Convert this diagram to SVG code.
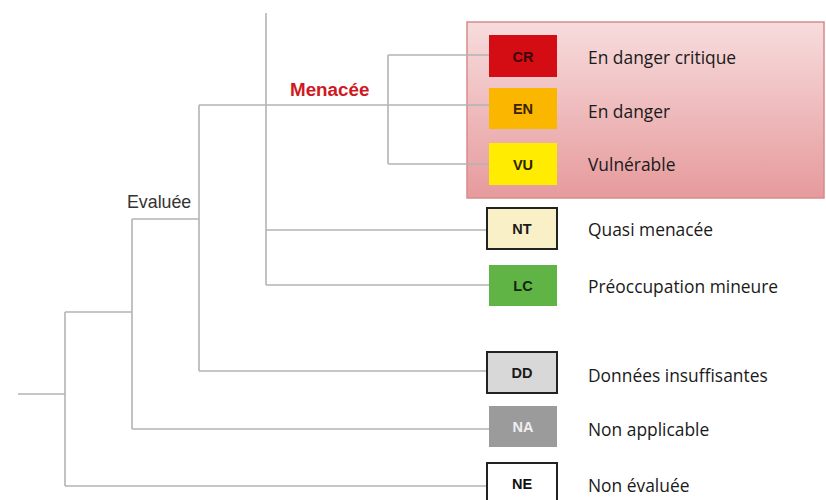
<svg xmlns="http://www.w3.org/2000/svg" width="826" height="500" viewBox="0 0 826 500">
<defs>
<linearGradient id="panelGrad" x1="0" y1="0" x2="0" y2="1">
<stop offset="0" stop-color="#f7dcdd"/>
<stop offset="1" stop-color="#e69a9c"/>
</linearGradient>
<style>
.ln{stroke:#b3b3b3;stroke-width:1.6;fill:none}
.code{font-family:"Liberation Sans",Arial,sans-serif;font-weight:bold;font-size:14.5px;text-anchor:middle}
.lab{font-family:"Open Sans",sans-serif;font-size:17.4px;fill:#1a1a1a}
.bord{stroke:#222;stroke-width:2}
</style>
</defs>
<rect width="826" height="500" fill="#ffffff"/>
<g id="panel-menacee">
<rect x="467" y="22" width="357" height="176" fill="url(#panelGrad)" stroke="#d98a8c" stroke-width="1.5"/>
</g>
<g id="connectors">
<line class="ln" x1="266" y1="13" x2="266" y2="285"/>
<line class="ln" x1="388" y1="55" x2="388" y2="164"/>
<line class="ln" x1="388" y1="55" x2="489" y2="55"/>
<line class="ln" x1="199" y1="105" x2="489" y2="105"/>
<line class="ln" x1="388" y1="164" x2="489" y2="164"/>
<line class="ln" x1="266" y1="230" x2="487" y2="230"/>
<line class="ln" x1="266" y1="285" x2="489" y2="285"/>
<line class="ln" x1="199" y1="105" x2="199" y2="371"/>
<line class="ln" x1="199" y1="371" x2="487" y2="371"/>
<line class="ln" x1="132" y1="219" x2="199" y2="219"/>
<line class="ln" x1="132" y1="219" x2="132" y2="429"/>
<line class="ln" x1="132" y1="429" x2="489" y2="429"/>
<line class="ln" x1="65" y1="312" x2="132" y2="312"/>
<line class="ln" x1="65" y1="312" x2="65" y2="486"/>
<line class="ln" x1="65" y1="486" x2="487" y2="486"/>
<line class="ln" x1="18" y1="394" x2="65" y2="394"/>
</g>
<g id="label-menacee"><text x="290" y="96" font-family="Liberation Sans,Arial,sans-serif" font-weight="bold" font-size="18.8" fill="#d01822">Menacée</text></g>
<g id="label-evaluee"><text x="127" y="208" font-family="Liberation Sans,Arial,sans-serif" font-size="17.8" fill="#333">Evaluée</text></g>
<g id="node-CR">
<rect x="489" y="35" width="68" height="42" fill="#d40c14"/>
<text class="code" x="523" y="62" fill="#3a0a0a">CR</text>
<text class="lab" x="588" y="64">En danger critique</text>
</g>
<g id="node-EN">
<rect x="489" y="88" width="68" height="41" fill="#fbb700"/>
<text class="code" x="523" y="114" fill="#3a2200">EN</text>
<text class="lab" x="588" y="118">En danger</text>
</g>
<g id="node-VU">
<rect x="489" y="143" width="68" height="42" fill="#ffec00"/>
<text class="code" x="523" y="170" fill="#2a2200">VU</text>
<text class="lab" x="588" y="171">Vulnérable</text>
</g>
<g id="node-NT">
<rect class="bord" x="487" y="208" width="70" height="41" fill="#faf0c8"/>
<text class="code" x="522" y="234" fill="#1a1a1a">NT</text>
<text class="lab" x="588" y="236">Quasi menacée</text>
</g>
<g id="node-LC">
<rect x="489" y="265" width="68" height="41" fill="#5fb445"/>
<text class="code" x="523" y="291" fill="#14260c">LC</text>
<text class="lab" x="588" y="293">Préoccupation mineure</text>
</g>
<g id="node-DD">
<rect class="bord" x="487" y="352" width="70" height="41" fill="#d8d8d8"/>
<text class="code" x="522" y="378" fill="#1a1a1a">DD</text>
<text class="lab" x="588" y="382">Données insuffisantes</text>
</g>
<g id="node-NA">
<rect x="489" y="406" width="68" height="41" fill="#9b9b9b"/>
<text class="code" x="523" y="432" fill="#efefef">NA</text>
<text class="lab" x="588" y="436">Non applicable</text>
</g>
<g id="node-NE">
<rect class="bord" x="487" y="463" width="70" height="40" fill="#ffffff"/>
<text class="code" x="522" y="489" fill="#111">NE</text>
<text class="lab" x="588" y="492">Non évaluée</text>
</g>
</svg>
